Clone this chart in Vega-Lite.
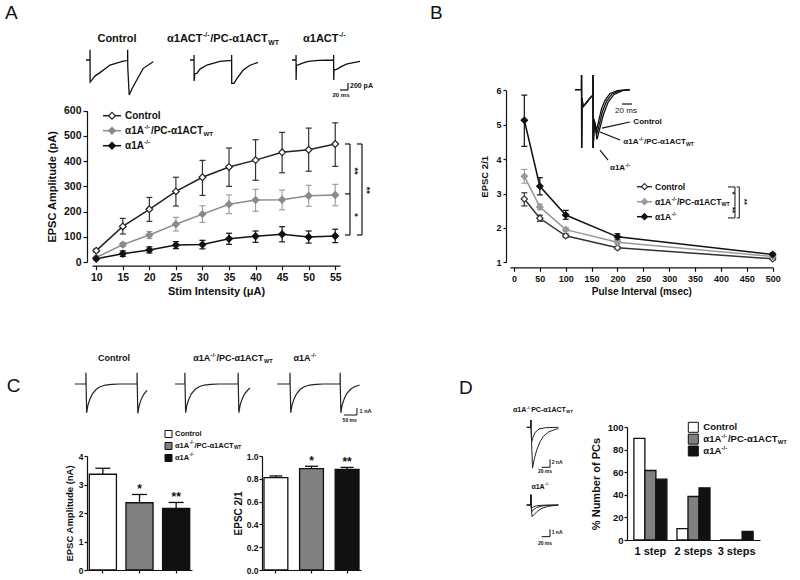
{
"$schema":"https://vega.github.io/schema/vega-lite/v6.json",
"width":800,"height":580,"autosize":{"type":"none"},"padding":0,"background":"white",
"config":{"font":"Liberation Sans","view":{"stroke":null},"legend":{"disable":true},
 "axis":{"grid":false,"domainColor":"#111","tickColor":"#111","labelColor":"#111","titleColor":"#111","labelFontWeight":"bold","titleFontWeight":"bold","domainWidth":1.2,"tickWidth":1.2,"labelFlush":false,"labelOverlap":false},
 "text":{"color":"#111","fontWeight":"bold"}},
"datasets":{
"A":[
{"g":"Control","stim":10,"m":45,"lo":40,"hi":51},{"g":"Control","stim":15,"m":141,"lo":111,"hi":173},{"g":"Control","stim":20,"m":209,"lo":161,"hi":256},{"g":"Control","stim":25,"m":280,"lo":222,"hi":336},{"g":"Control","stim":30,"m":336,"lo":264,"hi":403},{"g":"Control","stim":35,"m":377,"lo":300,"hi":452},{"g":"Control","stim":40,"m":404,"lo":324,"hi":485},{"g":"Control","stim":45,"m":435,"lo":354,"hi":514},{"g":"Control","stim":50,"m":445,"lo":360,"hi":531},{"g":"Control","stim":55,"m":468,"lo":379,"hi":552},
{"g":"PC","stim":10,"m":18,"lo":14,"hi":22},{"g":"PC","stim":15,"m":69,"lo":61,"hi":77},{"g":"PC","stim":20,"m":107,"lo":93,"hi":121},{"g":"PC","stim":25,"m":150,"lo":123,"hi":177},{"g":"PC","stim":30,"m":190,"lo":157,"hi":223},{"g":"PC","stim":35,"m":229,"lo":192,"hi":266},{"g":"PC","stim":40,"m":246,"lo":201,"hi":288},{"g":"PC","stim":45,"m":247,"lo":207,"hi":285},{"g":"PC","stim":50,"m":263,"lo":221,"hi":304},{"g":"PC","stim":55,"m":266,"lo":223,"hi":308},
{"g":"KO","stim":10,"m":13,"lo":9,"hi":17},{"g":"KO","stim":15,"m":33,"lo":22,"hi":44},{"g":"KO","stim":20,"m":48,"lo":36,"hi":60},{"g":"KO","stim":25,"m":67,"lo":53,"hi":81},{"g":"KO","stim":30,"m":69,"lo":52,"hi":86},{"g":"KO","stim":35,"m":92,"lo":70,"hi":114},{"g":"KO","stim":40,"m":102,"lo":78,"hi":123},{"g":"KO","stim":45,"m":110,"lo":80,"hi":140},{"g":"KO","stim":50,"m":99,"lo":75,"hi":123},{"g":"KO","stim":55,"m":103,"lo":77,"hi":130}],
"B":[
{"g":"Control","iv":20,"m":2.84,"lo":2.64,"hi":3.02},{"g":"Control","iv":50,"m":2.28,"lo":2.19,"hi":2.37},{"g":"Control","iv":100,"m":1.77,"lo":1.72,"hi":1.82},{"g":"Control","iv":200,"m":1.42,"lo":1.38,"hi":1.46},{"g":"Control","iv":500,"m":1.1,"lo":1.07,"hi":1.13},
{"g":"PC","iv":20,"m":3.5,"lo":3.3,"hi":3.7},{"g":"PC","iv":50,"m":2.61,"lo":2.53,"hi":2.69},{"g":"PC","iv":100,"m":1.95,"lo":1.89,"hi":2.01},{"g":"PC","iv":200,"m":1.58,"lo":1.53,"hi":1.63},{"g":"PC","iv":500,"m":1.17,"lo":1.14,"hi":1.2},
{"g":"KO","iv":20,"m":5.13,"lo":4.37,"hi":5.86},{"g":"KO","iv":50,"m":3.21,"lo":2.96,"hi":3.46},{"g":"KO","iv":100,"m":2.375,"lo":2.25,"hi":2.51},{"g":"KO","iv":200,"m":1.74,"lo":1.65,"hi":1.83},{"g":"KO","iv":500,"m":1.23,"lo":1.19,"hi":1.27}],
"C1":[{"g":"Control","m":3.36,"hi":3.57,"sig":""},{"g":"PC","m":2.36,"hi":2.65,"sig":"*"},{"g":"KO","m":2.16,"hi":2.37,"sig":"**"}],
"C2":[{"g":"Control","m":0.81,"hi":0.825,"sig":""},{"g":"PC","m":0.889,"hi":0.91,"sig":"*"},{"g":"KO","m":0.883,"hi":0.9,"sig":"**"}],
"D":[{"step":"1 step","g":"Control","pct":90},{"step":"1 step","g":"PC","pct":61.5},{"step":"1 step","g":"KO","pct":53.8},{"step":"2 steps","g":"Control","pct":10},{"step":"2 steps","g":"PC","pct":38.5},{"step":"2 steps","g":"KO","pct":46.2},{"step":"3 steps","g":"Control","pct":0},{"step":"3 steps","g":"PC","pct":0},{"step":"3 steps","g":"KO","pct":7.7}],
"leg":[{"g":"Control","b1":"Control","sup":"","b2":"","sub":""},{"g":"PC","b1":"α1A","sup":"-/-","b2":"/PC-α1ACT","sub":"WT"},{"g":"KO","b1":"α1A","sup":"-/-","b2":"","sub":""}],
"atr":[
{"tr":"A1","t":0,"a":0},{"tr":"A1","t":10,"a":0},{"tr":"A1","t":10.1,"a":290},{"tr":"A1","t":10.3,"a":-630},{"tr":"A1","t":14,"a":-580},{"tr":"A1","t":22,"a":-460},{"tr":"A1","t":35,"a":-360},{"tr":"A1","t":60,"a":-143},{"tr":"A1","t":93,"a":-29},{"tr":"A1","t":104,"a":-15},{"tr":"A1","t":104.1,"a":290},{"tr":"A1","t":104.4,"a":-200},{"tr":"A1","t":108,"a":-1000},{"tr":"A1","t":115,"a":-820},{"tr":"A1","t":127,"a":-571},{"tr":"A1","t":143,"a":-238},{"tr":"A1","t":168,"a":-48},
{"tr":"A2","t":0,"a":0},{"tr":"A2","t":10,"a":0},{"tr":"A2","t":10.1,"a":140},{"tr":"A2","t":10.3,"a":-600},{"tr":"A2","t":12,"a":-390},{"tr":"A2","t":17,"a":-380},{"tr":"A2","t":25,"a":-260},{"tr":"A2","t":42,"a":-143},{"tr":"A2","t":75,"a":-38},{"tr":"A2","t":104,"a":-10},{"tr":"A2","t":104.1,"a":140},{"tr":"A2","t":104.3,"a":-670},{"tr":"A2","t":110,"a":-670},{"tr":"A2","t":118,"a":-520},{"tr":"A2","t":133,"a":-286},{"tr":"A2","t":150,"a":-150},{"tr":"A2","t":170,"a":-70},
{"tr":"A3","t":0,"a":0},{"tr":"A3","t":10,"a":0},{"tr":"A3","t":10.1,"a":140},{"tr":"A3","t":10.3,"a":-570},{"tr":"A3","t":11,"a":-150},{"tr":"A3","t":16,"a":-140},{"tr":"A3","t":26,"a":-90},{"tr":"A3","t":41,"a":-40},{"tr":"A3","t":66,"a":-10},{"tr":"A3","t":104,"a":0},{"tr":"A3","t":104.1,"a":140},{"tr":"A3","t":104.3,"a":-570},{"tr":"A3","t":105,"a":-290},{"tr":"A3","t":113,"a":-260},{"tr":"A3","t":123,"a":-190},{"tr":"A3","t":138,"a":-110},{"tr":"A3","t":170,"a":-40}],
"btr":[
{"tr":"Bc","t":0,"a":0},{"tr":"Bc","t":13,"a":0},{"tr":"Bc","t":13.1,"a":150},{"tr":"Bc","t":13.3,"a":-600},{"tr":"Bc","t":14,"a":-90},{"tr":"Bc","t":16,"a":-175},{"tr":"Bc","t":22,"a":-140},{"tr":"Bc","t":28,"a":-100},{"tr":"Bc","t":33,"a":-70},{"tr":"Bc","t":35.9,"a":-60},{"tr":"Bc","t":36,"a":150},{"tr":"Bc","t":36.2,"a":-600},{"tr":"Bc","t":38,"a":-300},{"tr":"Bc","t":43,"a":-415},{"tr":"Bc","t":47,"a":-330},{"tr":"Bc","t":53,"a":-200},{"tr":"Bc","t":60,"a":-110},{"tr":"Bc","t":70,"a":-40},{"tr":"Bc","t":85,"a":-10},{"tr":"Bc","t":110,"a":0},
{"tr":"Bp","t":0,"a":0},{"tr":"Bp","t":13,"a":0},{"tr":"Bp","t":13.1,"a":150},{"tr":"Bp","t":13.3,"a":-600},{"tr":"Bp","t":14,"a":-90},{"tr":"Bp","t":16,"a":-175},{"tr":"Bp","t":22,"a":-140},{"tr":"Bp","t":28,"a":-100},{"tr":"Bp","t":33,"a":-70},{"tr":"Bp","t":35.9,"a":-60},{"tr":"Bp","t":36,"a":150},{"tr":"Bp","t":36.2,"a":-600},{"tr":"Bp","t":38.5,"a":-320},{"tr":"Bp","t":43.5,"a":-456},{"tr":"Bp","t":48,"a":-370},{"tr":"Bp","t":55,"a":-225},{"tr":"Bp","t":63,"a":-120},{"tr":"Bp","t":74,"a":-45},{"tr":"Bp","t":90,"a":-10},{"tr":"Bp","t":110,"a":0},
{"tr":"Bk","t":0,"a":0},{"tr":"Bk","t":13,"a":0},{"tr":"Bk","t":13.1,"a":150},{"tr":"Bk","t":13.3,"a":-600},{"tr":"Bk","t":14,"a":-90},{"tr":"Bk","t":16,"a":-175},{"tr":"Bk","t":22,"a":-140},{"tr":"Bk","t":28,"a":-100},{"tr":"Bk","t":33,"a":-70},{"tr":"Bk","t":35.9,"a":-60},{"tr":"Bk","t":36,"a":150},{"tr":"Bk","t":36.2,"a":-600},{"tr":"Bk","t":39,"a":-340},{"tr":"Bk","t":44,"a":-511},{"tr":"Bk","t":49,"a":-410},{"tr":"Bk","t":57,"a":-255},{"tr":"Bk","t":66,"a":-130},{"tr":"Bk","t":78,"a":-50},{"tr":"Bk","t":95,"a":-10},{"tr":"Bk","t":110,"a":0}],
"ctr":[
{"tr":"C1","t":0,"a":0},{"tr":"C1","t":42,"a":0},{"tr":"C1","t":42.1,"a":1.6},{"tr":"C1","t":42.6,"a":0},{"tr":"C1","t":45,"a":-4.1},{"tr":"C1","t":50,"a":-3},{"tr":"C1","t":57,"a":-2.2},{"tr":"C1","t":67,"a":-1.4},{"tr":"C1","t":82,"a":-0.75},{"tr":"C1","t":97,"a":-0.4},{"tr":"C1","t":117,"a":-0.15},{"tr":"C1","t":142,"a":-0.05},{"tr":"C1","t":172,"a":0},{"tr":"C1","t":239,"a":0},{"tr":"C1","t":239.1,"a":1.6},{"tr":"C1","t":239.6,"a":0},{"tr":"C1","t":242,"a":-4.2},{"tr":"C1","t":247,"a":-3.1},{"tr":"C1","t":254,"a":-2.3},{"tr":"C1","t":264,"a":-1.5},{"tr":"C1","t":277,"a":-0.9},
{"tr":"C2","t":0,"a":0},{"tr":"C2","t":38,"a":0},{"tr":"C2","t":38.1,"a":1.6},{"tr":"C2","t":38.6,"a":0},{"tr":"C2","t":41,"a":-4.1},{"tr":"C2","t":46,"a":-3},{"tr":"C2","t":53,"a":-2.2},{"tr":"C2","t":63,"a":-1.4},{"tr":"C2","t":78,"a":-0.75},{"tr":"C2","t":93,"a":-0.4},{"tr":"C2","t":113,"a":-0.15},{"tr":"C2","t":138,"a":-0.05},{"tr":"C2","t":168,"a":0},{"tr":"C2","t":243,"a":0},{"tr":"C2","t":243.1,"a":1.6},{"tr":"C2","t":243.6,"a":0},{"tr":"C2","t":246,"a":-4.1},{"tr":"C2","t":251,"a":-3},{"tr":"C2","t":258,"a":-2.2},{"tr":"C2","t":268,"a":-1.4},{"tr":"C2","t":283,"a":-0.75},{"tr":"C2","t":289,"a":-0.6},
{"tr":"C3","t":0,"a":0},{"tr":"C3","t":50,"a":0},{"tr":"C3","t":50.1,"a":1.6},{"tr":"C3","t":50.6,"a":0},{"tr":"C3","t":53,"a":-4.1},{"tr":"C3","t":58,"a":-3},{"tr":"C3","t":65,"a":-2.2},{"tr":"C3","t":75,"a":-1.4},{"tr":"C3","t":90,"a":-0.75},{"tr":"C3","t":105,"a":-0.4},{"tr":"C3","t":125,"a":-0.15},{"tr":"C3","t":150,"a":-0.05},{"tr":"C3","t":180,"a":0},{"tr":"C3","t":243,"a":0},{"tr":"C3","t":243.1,"a":1.6},{"tr":"C3","t":243.6,"a":0},{"tr":"C3","t":246,"a":-4.1},{"tr":"C3","t":251,"a":-3},{"tr":"C3","t":258,"a":-2.2},{"tr":"C3","t":268,"a":-1.4},{"tr":"C3","t":283,"a":-0.75},{"tr":"C3","t":298,"a":-0.4},{"tr":"C3","t":318,"a":-0.15}],
"dtr":[
{"tr":"D1b","t":0,"a":0},{"tr":"D1b","t":10,"a":0},{"tr":"D1b","t":10.1,"a":1.8},{"tr":"D1b","t":10.4,"a":0},{"tr":"D1b","t":14,"a":-10.2},{"tr":"D1b","t":18,"a":-8},{"tr":"D1b","t":24,"a":-5.7},{"tr":"D1b","t":32,"a":-3.6},{"tr":"D1b","t":40,"a":-2.3},{"tr":"D1b","t":52,"a":-1.2},{"tr":"D1b","t":64,"a":-0.7},{"tr":"D1b","t":76,"a":-0.3},
{"tr":"D1a","t":0,"a":0},{"tr":"D1a","t":10,"a":0},{"tr":"D1a","t":10.1,"a":1.8},{"tr":"D1a","t":10.4,"a":0},{"tr":"D1a","t":12,"a":-3.6},{"tr":"D1a","t":16,"a":-2.2},{"tr":"D1a","t":20,"a":-1.3},{"tr":"D1a","t":30,"a":-0.4},{"tr":"D1a","t":45,"a":-0.1},{"tr":"D1a","t":76,"a":0},
{"tr":"D2c","t":0,"a":0},{"tr":"D2c","t":10,"a":0},{"tr":"D2c","t":10.1,"a":1.4},{"tr":"D2c","t":10.4,"a":0},{"tr":"D2c","t":13,"a":-1.6},{"tr":"D2c","t":18,"a":-1.3},{"tr":"D2c","t":25,"a":-0.9},{"tr":"D2c","t":35,"a":-0.5},{"tr":"D2c","t":50,"a":-0.2},{"tr":"D2c","t":65,"a":-0.08},{"tr":"D2c","t":76,"a":0},
{"tr":"D2b","t":0,"a":0},{"tr":"D2b","t":10,"a":0},{"tr":"D2b","t":10.1,"a":1.4},{"tr":"D2b","t":10.4,"a":0},{"tr":"D2b","t":12.5,"a":-0.9},{"tr":"D2b","t":17,"a":-0.6},{"tr":"D2b","t":24,"a":-0.35},{"tr":"D2b","t":35,"a":-0.15},{"tr":"D2b","t":50,"a":-0.05},{"tr":"D2b","t":76,"a":0},
{"tr":"D2a","t":0,"a":0},{"tr":"D2a","t":10,"a":0},{"tr":"D2a","t":10.1,"a":1.4},{"tr":"D2a","t":10.4,"a":0},{"tr":"D2a","t":12,"a":-0.45},{"tr":"D2a","t":16,"a":-0.25},{"tr":"D2a","t":24,"a":-0.1},{"tr":"D2a","t":40,"a":-0.02},{"tr":"D2a","t":76,"a":0}]
},
"layer":[
{"data":{"name":"atr"},"layer":[
 {"transform":[{"filter":"datum.tr==='A1'"}],"mark":{"type":"line","stroke":"#111","strokeWidth":1.3},"encoding":{"x":{"field":"t","type":"quantitative","scale":{"domain":[0,170],"range":[86,154],"nice":false,"zero":false},"axis":null},"y":{"field":"a","type":"quantitative","scale":{"domain":[-1000,500],"range":[95,42.5],"nice":false,"zero":false},"axis":null}}},
 {"data":{"values":[{}]},"mark":{"type":"text","fontSize":11,"align":"center","baseline":"middle"},"encoding":{"x":{"datum":77.5,"axis":null},"y":{"datum":591,"axis":null},"text":{"value":"Control"}}},
 {"data":{"values":[{}]},"mark":{"type":"text","fontSize":19,"fontWeight":"normal","align":"left","baseline":"middle"},"encoding":{"x":{"datum":-202.5,"axis":null},"y":{"datum":1357,"axis":null},"text":{"value":"A"}}}
]},
{"data":{"name":"atr"},"layer":[
 {"transform":[{"filter":"datum.tr==='A2'"}],"mark":{"type":"line","stroke":"#111","strokeWidth":1.3},"encoding":{"x":{"field":"t","type":"quantitative","scale":{"domain":[0,170],"range":[190,258],"nice":false,"zero":false},"axis":null},"y":{"field":"a","type":"quantitative","scale":{"domain":[-1000,500],"range":[95,42.5],"nice":false,"zero":false},"axis":null}}},
 {"data":{"values":[{}]},"mark":{"type":"text","fontSize":11,"align":"left","baseline":"middle","dx":0},"encoding":{"x":{"datum":-57.5,"axis":null},"y":{"datum":591,"axis":null},"text":{"value":"α1ACT"}}},
 {"data":{"values":[{}]},"mark":{"type":"text","fontSize":6.8,"align":"left","baseline":"middle","dx":36.1,"dy":-4},"encoding":{"x":{"datum":-57.5,"axis":null},"y":{"datum":591,"axis":null},"text":{"value":"-/-"}}},
 {"data":{"values":[{}]},"mark":{"type":"text","fontSize":11,"align":"left","baseline":"middle","dx":43.3},"encoding":{"x":{"datum":-57.5,"axis":null},"y":{"datum":591,"axis":null},"text":{"value":"/PC-α1ACT"}}},
 {"data":{"values":[{}]},"mark":{"type":"text","fontSize":6.8,"align":"left","baseline":"middle","dx":101.3,"dy":3.3},"encoding":{"x":{"datum":-57.5,"axis":null},"y":{"datum":591,"axis":null},"text":{"value":"WT"}}}
]},
{"data":{"name":"atr"},"layer":[
 {"transform":[{"filter":"datum.tr==='A3'"}],"mark":{"type":"line","stroke":"#111","strokeWidth":1.3},"encoding":{"x":{"field":"t","type":"quantitative","scale":{"domain":[0,170],"range":[292,360],"nice":false,"zero":false},"axis":null},"y":{"field":"a","type":"quantitative","scale":{"domain":[-1000,500],"range":[95,42.5],"nice":false,"zero":false},"axis":null}}},
 {"data":{"values":[{}]},"mark":{"type":"text","fontSize":11,"align":"left","baseline":"middle"},"encoding":{"x":{"datum":27.5,"axis":null},"y":{"datum":591,"axis":null},"text":{"value":"α1ACT"}}},
 {"data":{"values":[{}]},"mark":{"type":"text","fontSize":6.8,"align":"left","baseline":"middle","dx":36.1,"dy":-4},"encoding":{"x":{"datum":27.5,"axis":null},"y":{"datum":591,"axis":null},"text":{"value":"-/-"}}},
 {"data":{"values":[{"x1":140,"x2":140,"y1":-657,"y2":-857},{"x1":120,"x2":140,"y1":-857,"y2":-857}]},"mark":{"type":"rule","color":"#111","strokeWidth":1.2},"encoding":{"x":{"field":"x1","type":"quantitative","axis":null},"x2":{"field":"x2"},"y":{"field":"y1","type":"quantitative","axis":null},"y2":{"field":"y2"}}},
 {"data":{"values":[{}]},"mark":{"type":"text","fontSize":7,"align":"left","baseline":"middle"},"encoding":{"x":{"datum":145,"axis":null},"y":{"datum":-743,"axis":null},"text":{"value":"200 pA"}}},
 {"data":{"values":[{}]},"mark":{"type":"text","fontSize":6,"align":"center","baseline":"middle"},"encoding":{"x":{"datum":122.5,"axis":null},"y":{"datum":-990,"axis":null},"text":{"value":"20 ms"}}}
]},
{"data":{"name":"A"},"mark":{"type":"rule","strokeWidth":1.2},"encoding":{
   "x":{"field":"stim","type":"quantitative","scale":{"domain":[9.2,55.9],"range":[92,340],"nice":false,"zero":false},"axis":{"orient":"bottom","offset":-314.3,"values":[10,15,20,25,30,35,40,45,50,55],"title":"Stim Intensity (μA)","titleFontSize":11,"labelFontSize":10.5,"tickSize":4,"labelPadding":3,"titlePadding":2}},
   "y":{"field":"lo","type":"quantitative","scale":{"domain":[0,600],"range":[262,110.7],"nice":false,"zero":false},"axis":{"orient":"left","offset":-87,"values":[0,100,200,300,400,500,600],"title":"EPSC Amplitude (pA)","titleFontSize":11,"labelFontSize":10.5,"tickSize":4,"labelPadding":2,"titlePadding":6}},
   "y2":{"field":"hi"},
   "color":{"field":"g","type":"nominal","scale":{"domain":["Control","PC","KO"],"range":["#333","#a0a0a0","#111"]}}}},
{"data":{"name":"A"},"layer":[
 {"mark":{"type":"tick","orient":"horizontal","size":6,"thickness":1.2,"opacity":1},"encoding":{"x":{"field":"stim","type":"quantitative","scale":{"domain":[9.2,55.9],"range":[92,340],"nice":false,"zero":false},"axis":null},"y":{"field":"lo","type":"quantitative","scale":{"domain":[0,600],"range":[262,110.7],"nice":false,"zero":false},"axis":null},"color":{"field":"g","type":"nominal","scale":{"domain":["Control","PC","KO"],"range":["#333","#a0a0a0","#111"]}}}},
 {"mark":{"type":"tick","orient":"horizontal","size":6,"thickness":1.2,"opacity":1},"encoding":{"x":{"field":"stim","type":"quantitative","axis":null},"y":{"field":"hi","type":"quantitative","axis":null},"color":{"field":"g","type":"nominal"}}},
 {"mark":{"type":"line","strokeWidth":1.5},"encoding":{"x":{"field":"stim","type":"quantitative","axis":null},"y":{"field":"m","type":"quantitative","axis":null},"stroke":{"field":"g","type":"nominal","scale":{"domain":["Control","PC","KO"],"range":["#222","#8a8a8a","#111"]}}}},
 {"mark":{"type":"point","shape":"diamond","filled":true,"size":45,"strokeWidth":1.2,"opacity":1},"encoding":{"x":{"field":"stim","type":"quantitative","axis":null},"y":{"field":"m","type":"quantitative","axis":null},"fill":{"field":"g","type":"nominal","scale":{"domain":["Control","PC","KO"],"range":["#fff","#8a8a8a","#111"]}},"stroke":{"field":"g","type":"nominal"}}},
 {"data":{"values":[{"x1":56.84,"x2":57.78,"y1":468,"y2":468},{"x1":57.78,"x2":57.78,"y1":107,"y2":468},{"x1":56.84,"x2":57.78,"y1":270,"y2":270},{"x1":56.84,"x2":57.78,"y1":107,"y2":107},{"x1":59.1,"x2":60.04,"y1":468,"y2":468},{"x1":60.04,"x2":60.04,"y1":107,"y2":468},{"x1":59.1,"x2":60.04,"y1":107,"y2":107}]},"mark":{"type":"rule","color":"#111","strokeWidth":1.2},"encoding":{"x":{"field":"x1","type":"quantitative","axis":null},"x2":{"field":"x2"},"y":{"field":"y1","type":"quantitative","axis":null},"y2":{"field":"y2"}}},
 {"data":{"values":[{"x":58.7,"y":361,"s":"**"},{"x":58.7,"y":186,"s":"*"},{"x":60.9,"y":285,"s":"**"}]},"mark":{"type":"text","fontSize":9,"angle":90,"align":"center","baseline":"middle"},"encoding":{"x":{"field":"x","type":"quantitative","axis":null},"y":{"field":"y","type":"quantitative","axis":null},"text":{"field":"s"}}}
]},
{"data":{"name":"leg"},"layer":[
 {"mark":{"type":"rule","strokeWidth":1.5},"encoding":{"x":{"datum":0,"type":"quantitative","scale":{"domain":[0,1],"range":[103,121],"nice":false,"zero":false},"axis":null},"x2":{"datum":1},"y":{"field":"g","type":"nominal","scale":{"type":"point","domain":["Control","PC","KO"],"range":[115.7,145.7],"padding":0},"axis":null},"stroke":{"field":"g","type":"nominal","scale":{"domain":["Control","PC","KO"],"range":["#222","#8a8a8a","#111"]}}}},
 {"mark":{"type":"point","shape":"diamond","filled":true,"size":45,"strokeWidth":1.2,"opacity":1},"encoding":{"x":{"datum":0.5,"type":"quantitative","axis":null},"y":{"field":"g","type":"nominal","axis":null},"fill":{"field":"g","type":"nominal","scale":{"domain":["Control","PC","KO"],"range":["#fff","#8a8a8a","#111"]}},"stroke":{"field":"g","type":"nominal"}}},
 {"mark":{"type":"text","align":"left","baseline":"middle","fontSize":10,"dx":4},"encoding":{"x":{"datum":1,"type":"quantitative","axis":null},"y":{"field":"g","type":"nominal","axis":null},"text":{"field":"b1"}}},
 {"mark":{"type":"text","align":"left","baseline":"middle","fontSize":6.2,"dx":23.3,"dy":-3.6},"encoding":{"x":{"datum":1,"type":"quantitative","axis":null},"y":{"field":"g","type":"nominal","axis":null},"text":{"field":"sup"}}},
 {"mark":{"type":"text","align":"left","baseline":"middle","fontSize":10,"dx":29.9},"encoding":{"x":{"datum":1,"type":"quantitative","axis":null},"y":{"field":"g","type":"nominal","axis":null},"text":{"field":"b2"}}},
 {"mark":{"type":"text","align":"left","baseline":"middle","fontSize":6.2,"dx":82.4,"dy":3},"encoding":{"x":{"datum":1,"type":"quantitative","axis":null},"y":{"field":"g","type":"nominal","axis":null},"text":{"field":"sub"}}}
]},
{"data":{"name":"B"},"mark":{"type":"rule","strokeWidth":1.2},"encoding":{
   "x":{"field":"iv","type":"quantitative","scale":{"domain":[-7.7,500],"range":[510,772.7],"nice":false,"zero":false},"axis":{"orient":"bottom","offset":-312.7,"values":[0,50,100,150,200,250,300,350,400,450,500],"title":"Pulse Interval (msec)","titleFontSize":10,"labelFontSize":9,"tickSize":4,"labelPadding":3,"titlePadding":3}},
   "y":{"field":"lo","type":"quantitative","scale":{"domain":[1,6],"range":[262.3,90.3],"nice":false,"zero":false},"axis":{"orient":"left","offset":-506,"values":[1,2,3,4,5,6],"title":"EPSC 2/1","titleFontSize":9.5,"labelFontSize":9,"tickSize":3,"labelPadding":2,"titlePadding":6}},
   "y2":{"field":"hi"},
   "color":{"field":"g","type":"nominal","scale":{"domain":["Control","PC","KO"],"range":["#333","#a0a0a0","#111"]}}}},
{"data":{"name":"B"},"layer":[
 {"mark":{"type":"tick","orient":"horizontal","size":6,"thickness":1.2,"opacity":1},"encoding":{"x":{"field":"iv","type":"quantitative","scale":{"domain":[-7.7,500],"range":[510,772.7],"nice":false,"zero":false},"axis":null},"y":{"field":"lo","type":"quantitative","scale":{"domain":[1,6],"range":[262.3,90.3],"nice":false,"zero":false},"axis":null},"color":{"field":"g","type":"nominal","scale":{"domain":["Control","PC","KO"],"range":["#333","#a0a0a0","#111"]}}}},
 {"mark":{"type":"tick","orient":"horizontal","size":6,"thickness":1.2,"opacity":1},"encoding":{"x":{"field":"iv","type":"quantitative","axis":null},"y":{"field":"hi","type":"quantitative","axis":null},"color":{"field":"g","type":"nominal"}}},
 {"mark":{"type":"line","strokeWidth":1.5},"encoding":{"x":{"field":"iv","type":"quantitative","axis":null},"y":{"field":"m","type":"quantitative","axis":null},"stroke":{"field":"g","type":"nominal","scale":{"domain":["Control","PC","KO"],"range":["#333","#999","#111"]}}}},
 {"mark":{"type":"point","shape":"diamond","filled":true,"size":40,"strokeWidth":1.2,"opacity":1},"encoding":{"x":{"field":"iv","type":"quantitative","axis":null},"y":{"field":"m","type":"quantitative","axis":null},"fill":{"field":"g","type":"nominal","scale":{"domain":["Control","PC","KO"],"range":["#fff","#999","#111"]}},"stroke":{"field":"g","type":"nominal"}}},
 {"data":{"values":[{"x1":413.6,"x2":427.1,"y1":3.19,"y2":3.19},{"x1":427.1,"x2":427.1,"y1":2.29,"y2":3.19},{"x1":413.6,"x2":427.1,"y1":2.29,"y2":2.29},{"x1":430.4,"x2":435.4,"y1":3.19,"y2":3.19},{"x1":435.4,"x2":435.4,"y1":2.29,"y2":3.19},{"x1":430.4,"x2":435.4,"y1":2.29,"y2":2.29}]},"mark":{"type":"rule","color":"#111","strokeWidth":1},"encoding":{"x":{"field":"x1","type":"quantitative","axis":null},"x2":{"field":"x2"},"y":{"field":"y1","type":"quantitative","axis":null},"y2":{"field":"y2"}}},
 {"data":{"values":[{"x":421.3,"y":3.01,"s":"*"},{"x":421.3,"y":2.52,"s":"**"},{"x":444.5,"y":2.76,"s":"**"}]},"mark":{"type":"text","fontSize":8,"angle":90,"align":"center","baseline":"middle"},"encoding":{"x":{"field":"x","type":"quantitative","axis":null},"y":{"field":"y","type":"quantitative","axis":null},"text":{"field":"s"}}}
]},
{"data":{"name":"leg"},"layer":[
 {"mark":{"type":"rule","strokeWidth":1.5},"encoding":{"x":{"datum":0,"type":"quantitative","scale":{"domain":[0,1],"range":[637,652],"nice":false,"zero":false},"axis":null},"x2":{"datum":1},"y":{"field":"g","type":"nominal","scale":{"type":"point","domain":["Control","PC","KO"],"range":[186.7,216.7],"padding":0},"axis":null},"stroke":{"field":"g","type":"nominal","scale":{"domain":["Control","PC","KO"],"range":["#333","#999","#111"]}}}},
 {"mark":{"type":"point","shape":"diamond","filled":true,"size":36,"strokeWidth":1.2,"opacity":1},"encoding":{"x":{"datum":0.5,"type":"quantitative","axis":null},"y":{"field":"g","type":"nominal","axis":null},"fill":{"field":"g","type":"nominal","scale":{"domain":["Control","PC","KO"],"range":["#fff","#999","#111"]}},"stroke":{"field":"g","type":"nominal"}}},
 {"mark":{"type":"text","align":"left","baseline":"middle","fontSize":8.5,"dx":3},"encoding":{"x":{"datum":1,"type":"quantitative","axis":null},"y":{"field":"g","type":"nominal","axis":null},"text":{"field":"b1"}}},
 {"mark":{"type":"text","align":"left","baseline":"middle","fontSize":5.3,"dx":19.4,"dy":-3.1},"encoding":{"x":{"datum":1,"type":"quantitative","axis":null},"y":{"field":"g","type":"nominal","axis":null},"text":{"field":"sup"}}},
 {"mark":{"type":"text","align":"left","baseline":"middle","fontSize":8.5,"dx":25},"encoding":{"x":{"datum":1,"type":"quantitative","axis":null},"y":{"field":"g","type":"nominal","axis":null},"text":{"field":"b2"}}},
 {"mark":{"type":"text","align":"left","baseline":"middle","fontSize":5.3,"dx":69.6,"dy":2.6},"encoding":{"x":{"datum":1,"type":"quantitative","axis":null},"y":{"field":"g","type":"nominal","axis":null},"text":{"field":"sub"}}}
]},
{"data":{"name":"btr"},"layer":[
 {"mark":{"type":"line","stroke":"#111","strokeWidth":1.3},"encoding":{"x":{"field":"t","type":"quantitative","scale":{"domain":[0,110],"range":[575,630],"nice":false,"zero":false},"axis":null},"y":{"field":"a","type":"quantitative","scale":{"domain":[-600,150],"range":[148,75],"nice":false,"zero":false},"axis":null},"detail":{"field":"tr"}}},
 {"data":{"values":[{"x1":94,"x2":114,"y1":-148,"y2":-148},{"x1":54,"x2":110,"y1":-395,"y2":-333},{"x1":50,"x2":90,"y1":-436,"y2":-518},{"x1":50,"x2":66,"y1":-621,"y2":-724}]},"mark":{"type":"rule","color":"#111","strokeWidth":1.2},"encoding":{"x":{"field":"x1","type":"quantitative","axis":null},"x2":{"field":"x2"},"y":{"field":"y1","type":"quantitative","axis":null},"y2":{"field":"y2"}}},
 {"data":{"values":[{}]},"mark":{"type":"text","fontSize":8,"fontWeight":"normal","align":"center","baseline":"middle"},"encoding":{"x":{"datum":102,"axis":null},"y":{"datum":-215,"axis":null},"text":{"value":"20 ms"}}},
 {"data":{"values":[{}]},"mark":{"type":"text","fontSize":8,"align":"left","baseline":"middle"},"encoding":{"x":{"datum":116.7,"axis":null},"y":{"datum":-336,"axis":null},"text":{"value":"Control"}}},
 {"data":{"values":[{}]},"mark":{"type":"text","fontSize":8,"align":"left","baseline":"middle"},"encoding":{"x":{"datum":96.7,"axis":null},"y":{"datum":-535,"axis":null},"text":{"value":"α1A"}}},
 {"data":{"values":[{}]},"mark":{"type":"text","fontSize":5,"align":"left","baseline":"middle","dx":15.4,"dy":-2.9},"encoding":{"x":{"datum":96.7,"axis":null},"y":{"datum":-535,"axis":null},"text":{"value":"-/-"}}},
 {"data":{"values":[{}]},"mark":{"type":"text","fontSize":8,"align":"left","baseline":"middle","dx":20.7},"encoding":{"x":{"datum":96.7,"axis":null},"y":{"datum":-535,"axis":null},"text":{"value":"/PC-α1ACT"}}},
 {"data":{"values":[{}]},"mark":{"type":"text","fontSize":5,"align":"left","baseline":"middle","dx":62.7,"dy":2.4},"encoding":{"x":{"datum":96.7,"axis":null},"y":{"datum":-535,"axis":null},"text":{"value":"WT"}}},
 {"data":{"values":[{}]},"mark":{"type":"text","fontSize":8,"align":"left","baseline":"middle"},"encoding":{"x":{"datum":70,"axis":null},"y":{"datum":-809,"axis":null},"text":{"value":"α1A"}}},
 {"data":{"values":[{}]},"mark":{"type":"text","fontSize":5,"align":"left","baseline":"middle","dx":15.4,"dy":-2.9},"encoding":{"x":{"datum":70,"axis":null},"y":{"datum":-809,"axis":null},"text":{"value":"-/-"}}},
 {"data":{"values":[{}]},"mark":{"type":"text","fontSize":19,"fontWeight":"normal","align":"left","baseline":"middle"},"encoding":{"x":{"datum":-290,"axis":null},"y":{"datum":787,"axis":null},"text":{"value":"B"}}}
]},
{"data":{"name":"ctr"},"layer":[
 {"transform":[{"filter":"datum.tr==='C1'"}],"mark":{"type":"line","stroke":"#222","strokeWidth":1.2},"encoding":{"x":{"field":"t","type":"quantitative","scale":{"domain":[0,290],"range":[75,150.3],"nice":false,"zero":false},"axis":null},"y":{"field":"a","type":"quantitative","scale":{"domain":[-5,2],"range":[419,370],"nice":false,"zero":false},"axis":null}}},
 {"data":{"values":[{}]},"mark":{"type":"text","fontSize":9,"align":"center","baseline":"middle"},"encoding":{"x":{"datum":150,"axis":null},"y":{"datum":3.71,"axis":null},"text":{"value":"Control"}}},
 {"data":{"values":[{}]},"mark":{"type":"text","fontSize":19,"fontWeight":"normal","align":"left","baseline":"middle"},"encoding":{"x":{"datum":-263,"axis":null},"y":{"datum":-0.29,"axis":null},"text":{"value":"C"}}}
]},
{"data":{"name":"ctr"},"layer":[
 {"transform":[{"filter":"datum.tr==='C2'"}],"mark":{"type":"line","stroke":"#222","strokeWidth":1.2},"encoding":{"x":{"field":"t","type":"quantitative","scale":{"domain":[0,290],"range":[175,250.3],"nice":false,"zero":false},"axis":null},"y":{"field":"a","type":"quantitative","scale":{"domain":[-5,2],"range":[419,370],"nice":false,"zero":false},"axis":null}}},
 {"data":{"values":[{}]},"mark":{"type":"text","fontSize":9,"align":"left","baseline":"middle"},"encoding":{"x":{"datum":70,"axis":null},"y":{"datum":3.71,"axis":null},"text":{"value":"α1A"}}},
 {"data":{"values":[{}]},"mark":{"type":"text","fontSize":5.6,"align":"left","baseline":"middle","dx":17.4,"dy":-3.3},"encoding":{"x":{"datum":70,"axis":null},"y":{"datum":3.71,"axis":null},"text":{"value":"-/-"}}},
 {"data":{"values":[{}]},"mark":{"type":"text","fontSize":9,"align":"left","baseline":"middle","dx":23.4},"encoding":{"x":{"datum":70,"axis":null},"y":{"datum":3.71,"axis":null},"text":{"value":"/PC-α1ACT"}}},
 {"data":{"values":[{}]},"mark":{"type":"text","fontSize":5.6,"align":"left","baseline":"middle","dx":70.9,"dy":2.7},"encoding":{"x":{"datum":70,"axis":null},"y":{"datum":3.71,"axis":null},"text":{"value":"WT"}}}
]},
{"data":{"name":"ctr"},"layer":[
 {"transform":[{"filter":"datum.tr==='C3'"}],"mark":{"type":"line","stroke":"#222","strokeWidth":1.2},"encoding":{"x":{"field":"t","type":"quantitative","scale":{"domain":[0,290],"range":[277,352.3],"nice":false,"zero":false},"axis":null},"y":{"field":"a","type":"quantitative","scale":{"domain":[-5,2],"range":[419,370],"nice":false,"zero":false},"axis":null}}},
 {"data":{"values":[{}]},"mark":{"type":"text","fontSize":9,"align":"left","baseline":"middle"},"encoding":{"x":{"datum":63.5,"axis":null},"y":{"datum":3.71,"axis":null},"text":{"value":"α1A"}}},
 {"data":{"values":[{}]},"mark":{"type":"text","fontSize":5.6,"align":"left","baseline":"middle","dx":17.4,"dy":-3.3},"encoding":{"x":{"datum":63.5,"axis":null},"y":{"datum":3.71,"axis":null},"text":{"value":"-/-"}}},
 {"data":{"values":[{"x1":308,"x2":308,"y1":-3.43,"y2":-4.43},{"x1":258,"x2":308,"y1":-4.43,"y2":-4.43}]},"mark":{"type":"rule","color":"#111","strokeWidth":1},"encoding":{"x":{"field":"x1","type":"quantitative","axis":null},"x2":{"field":"x2"},"y":{"field":"y1","type":"quantitative","axis":null},"y2":{"field":"y2"}}},
 {"data":{"values":[{}]},"mark":{"type":"text","fontSize":5.5,"align":"left","baseline":"middle"},"encoding":{"x":{"datum":318,"axis":null},"y":{"datum":-3.86,"axis":null},"text":{"value":"1 nA"}}},
 {"data":{"values":[{}]},"mark":{"type":"text","fontSize":5,"align":"center","baseline":"middle"},"encoding":{"x":{"datum":280,"axis":null},"y":{"datum":-5.14,"axis":null},"text":{"value":"50 ms"}}}
]},
{"data":{"name":"C1"},"mark":{"type":"bar","stroke":"#111","strokeWidth":1.3},"encoding":{
   "x":{"field":"g","type":"nominal","sort":null,"scale":{"type":"band","domain":["Control","PC","KO"],"range":[87,192],"paddingInner":0.26,"paddingOuter":0.063},"axis":{"orient":"bottom","offset":-10,"labels":false,"title":null,"tickSize":3}},
   "y":{"field":"m","type":"quantitative","scale":{"domain":[0,4],"range":[570,456],"nice":false,"zero":false},"axis":{"orient":"left","offset":-87,"values":[0,1,2,3,4],"title":"EPSC Amplitude (nA)","titleFontSize":9.5,"labelFontSize":8.5,"tickSize":3,"labelPadding":1,"titlePadding":4}},
   "fill":{"field":"g","type":"nominal","scale":{"domain":["Control","PC","KO"],"range":["#fff","#808080","#111"]}}}},
{"data":{"name":"C1"},"layer":[
 {"mark":{"type":"rule","color":"#111","strokeWidth":1.3},"encoding":{"x":{"field":"g","type":"nominal","sort":null,"scale":{"type":"band","domain":["Control","PC","KO"],"range":[87,192],"paddingInner":0.26,"paddingOuter":0.063},"axis":null},"y":{"field":"m","type":"quantitative","scale":{"domain":[0,4],"range":[570,456],"nice":false,"zero":false},"axis":null},"y2":{"field":"hi"}}},
 {"mark":{"type":"tick","orient":"horizontal","size":15,"thickness":1.3,"color":"#111","opacity":1},"encoding":{"x":{"field":"g","type":"nominal","axis":null},"y":{"field":"hi","type":"quantitative","axis":null}}},
 {"mark":{"type":"text","fontSize":12,"align":"center","baseline":"alphabetic","dy":-1},"encoding":{"x":{"field":"g","type":"nominal","axis":null},"y":{"field":"hi","type":"quantitative","axis":null},"text":{"field":"sig"}}}
]},
{"data":{"name":"C2"},"mark":{"type":"bar","stroke":"#111","strokeWidth":1.3},"encoding":{
   "x":{"field":"g","type":"nominal","sort":null,"scale":{"type":"band","domain":["Control","PC","KO"],"range":[262,361],"paddingInner":0.33,"paddingOuter":0.056},"axis":{"orient":"bottom","offset":-10,"labels":false,"title":null,"tickSize":3}},
   "y":{"field":"m","type":"quantitative","scale":{"domain":[0,1],"range":[570,456],"nice":false,"zero":false},"axis":{"orient":"left","offset":-262,"values":[0,0.2,0.4,0.6,0.8,1],"format":".1f","title":"EPSC 2/1","titleFontSize":10,"labelFontSize":8.5,"tickSize":3,"labelPadding":1,"titlePadding":3}},
   "fill":{"field":"g","type":"nominal","scale":{"domain":["Control","PC","KO"],"range":["#fff","#808080","#111"]}}}},
{"data":{"name":"C2"},"layer":[
 {"mark":{"type":"rule","color":"#111","strokeWidth":1.3},"encoding":{"x":{"field":"g","type":"nominal","sort":null,"scale":{"type":"band","domain":["Control","PC","KO"],"range":[262,361],"paddingInner":0.33,"paddingOuter":0.056},"axis":null},"y":{"field":"m","type":"quantitative","scale":{"domain":[0,1],"range":[570,456],"nice":false,"zero":false},"axis":null},"y2":{"field":"hi"}}},
 {"mark":{"type":"tick","orient":"horizontal","size":13,"thickness":1.3,"color":"#111","opacity":1},"encoding":{"x":{"field":"g","type":"nominal","axis":null},"y":{"field":"hi","type":"quantitative","axis":null}}},
 {"mark":{"type":"text","fontSize":12,"align":"center","baseline":"alphabetic","dy":-1},"encoding":{"x":{"field":"g","type":"nominal","axis":null},"y":{"field":"hi","type":"quantitative","axis":null},"text":{"field":"sig"}}}
]},
{"data":{"name":"leg"},"layer":[
 {"mark":{"type":"point","shape":"square","filled":true,"size":49,"stroke":"#111","strokeWidth":1,"opacity":1},"encoding":{"x":{"datum":0.5,"type":"quantitative","scale":{"domain":[0,1],"range":[165,172],"nice":false,"zero":false},"axis":null},"y":{"field":"g","type":"nominal","scale":{"type":"point","domain":["Control","PC","KO"],"range":[434,458],"padding":0},"axis":null},"fill":{"field":"g","type":"nominal","scale":{"domain":["Control","PC","KO"],"range":["#fff","#808080","#111"]}}}},
 {"mark":{"type":"text","align":"left","baseline":"middle","fontSize":7.5,"dx":3},"encoding":{"x":{"datum":1,"type":"quantitative","axis":null},"y":{"field":"g","type":"nominal","axis":null},"text":{"field":"b1"}}},
 {"mark":{"type":"text","align":"left","baseline":"middle","fontSize":4.7,"dx":17.5,"dy":-2.8},"encoding":{"x":{"datum":1,"type":"quantitative","axis":null},"y":{"field":"g","type":"nominal","axis":null},"text":{"field":"sup"}}},
 {"mark":{"type":"text","align":"left","baseline":"middle","fontSize":7.5,"dx":22.5},"encoding":{"x":{"datum":1,"type":"quantitative","axis":null},"y":{"field":"g","type":"nominal","axis":null},"text":{"field":"b2"}}},
 {"mark":{"type":"text","align":"left","baseline":"middle","fontSize":4.7,"dx":61.9,"dy":2.3},"encoding":{"x":{"datum":1,"type":"quantitative","axis":null},"y":{"field":"g","type":"nominal","axis":null},"text":{"field":"sub"}}}
]},
{"data":{"name":"dtr"},"layer":[
 {"transform":[{"filter":{"field":"tr","oneOf":["D1a","D1b"]}}],"mark":{"type":"line","stroke":"#222","strokeWidth":1},"encoding":{"x":{"field":"t","type":"quantitative","scale":{"domain":[0,80],"range":[526.7,560],"nice":false,"zero":false},"axis":null},"y":{"field":"a","type":"quantitative","scale":{"domain":[-12,2],"range":[475.3,419.3],"nice":false,"zero":false},"axis":null},"detail":{"field":"tr"}}},
 {"data":{"values":[{}]},"mark":{"type":"text","fontSize":7,"align":"left","baseline":"middle"},"encoding":{"x":{"datum":-32.9,"axis":null},"y":{"datum":4.3,"axis":null},"text":{"value":"α1A"}}},
 {"data":{"values":[{}]},"mark":{"type":"text","fontSize":4.4,"align":"left","baseline":"middle","dx":13.5,"dy":-2.6},"encoding":{"x":{"datum":-32.9,"axis":null},"y":{"datum":4.3,"axis":null},"text":{"value":"-/-"}}},
 {"data":{"values":[{}]},"mark":{"type":"text","fontSize":7,"align":"left","baseline":"middle","dx":18.2},"encoding":{"x":{"datum":-32.9,"axis":null},"y":{"datum":4.3,"axis":null},"text":{"value":"PC-α1ACT"}}},
 {"data":{"values":[{}]},"mark":{"type":"text","fontSize":4.4,"align":"left","baseline":"middle","dx":53,"dy":2.2},"encoding":{"x":{"datum":-32.9,"axis":null},"y":{"datum":4.3,"axis":null},"text":{"value":"WT"}}},
 {"data":{"values":[{"x1":56,"x2":56,"y1":-8,"y2":-10},{"x1":36,"x2":56,"y1":-10,"y2":-10}]},"mark":{"type":"rule","color":"#111","strokeWidth":1},"encoding":{"x":{"field":"x1","type":"quantitative","axis":null},"x2":{"field":"x2"},"y":{"field":"y1","type":"quantitative","axis":null},"y2":{"field":"y2"}}},
 {"data":{"values":[{}]},"mark":{"type":"text","fontSize":5,"align":"left","baseline":"middle"},"encoding":{"x":{"datum":60,"axis":null},"y":{"datum":-8.6,"axis":null},"text":{"value":"2 nA"}}},
 {"data":{"values":[{}]},"mark":{"type":"text","fontSize":5,"align":"center","baseline":"middle"},"encoding":{"x":{"datum":44,"axis":null},"y":{"datum":-10.8,"axis":null},"text":{"value":"20 ms"}}},
 {"data":{"values":[{}]},"mark":{"type":"text","fontSize":19,"fontWeight":"normal","align":"left","baseline":"middle"},"encoding":{"x":{"datum":-162.5,"axis":null},"y":{"datum":9.95,"axis":null},"text":{"value":"D"}}}
]},
{"data":{"name":"dtr"},"layer":[
 {"transform":[{"filter":{"field":"tr","oneOf":["D2a","D2b","D2c"]}}],"mark":{"type":"line","stroke":"#222","strokeWidth":1},"encoding":{"x":{"field":"t","type":"quantitative","scale":{"domain":[0,80],"range":[526.7,560],"nice":false,"zero":false},"axis":null},"y":{"field":"a","type":"quantitative","scale":{"domain":[-5,2],"range":[541.5,490.4],"nice":false,"zero":false},"axis":null},"detail":{"field":"tr"}}},
 {"data":{"values":[{}]},"mark":{"type":"text","fontSize":7,"align":"left","baseline":"middle"},"encoding":{"x":{"datum":11.3,"axis":null},"y":{"datum":2.47,"axis":null},"text":{"value":"α1A"}}},
 {"data":{"values":[{}]},"mark":{"type":"text","fontSize":4.4,"align":"left","baseline":"middle","dx":13.5,"dy":-2.6},"encoding":{"x":{"datum":11.3,"axis":null},"y":{"datum":2.47,"axis":null},"text":{"value":"-/-"}}},
 {"data":{"values":[{"x1":56,"x2":56,"y1":-3.33,"y2":-4.34},{"x1":36,"x2":56,"y1":-4.34,"y2":-4.34}]},"mark":{"type":"rule","color":"#111","strokeWidth":1},"encoding":{"x":{"field":"x1","type":"quantitative","axis":null},"x2":{"field":"x2"},"y":{"field":"y1","type":"quantitative","axis":null},"y2":{"field":"y2"}}},
 {"data":{"values":[{}]},"mark":{"type":"text","fontSize":5,"align":"left","baseline":"middle"},"encoding":{"x":{"datum":60,"axis":null},"y":{"datum":-3.7,"axis":null},"text":{"value":"1 nA"}}},
 {"data":{"values":[{}]},"mark":{"type":"text","fontSize":5,"align":"center","baseline":"middle"},"encoding":{"x":{"datum":44,"axis":null},"y":{"datum":-5.2,"axis":null},"text":{"value":"20 ms"}}}
]},
{"data":{"name":"D"},"mark":{"type":"bar","stroke":"#111","strokeWidth":1.3},"encoding":{
   "x":{"field":"step","type":"nominal","sort":null,"scale":{"type":"band","domain":["1 step","2 steps","3 steps"],"range":[627,760],"paddingInner":0.234,"paddingOuter":0.16},"axis":{"orient":"bottom","offset":-40,"title":null,"ticks":false,"labelFontSize":11,"labelPadding":5,"labelAngle":0}},
   "xOffset":{"field":"g","type":"nominal","sort":null,"scale":{"domain":["Control","PC","KO"],"paddingInner":0,"paddingOuter":0}},
   "y":{"field":"pct","type":"quantitative","scale":{"domain":[0,100],"range":[540,427],"nice":false,"zero":false},"axis":{"orient":"left","offset":-627,"values":[0,20,40,60,80,100],"title":"% Number of PCs","titleFontSize":11,"labelFontSize":9.5,"tickSize":3,"labelPadding":1,"titlePadding":6}},
   "fill":{"field":"g","type":"nominal","scale":{"domain":["Control","PC","KO"],"range":["#fff","#808080","#111"]}}}},
{"data":{"name":"leg"},"layer":[
 {"mark":{"type":"point","shape":"square","filled":true,"size":100,"stroke":"#111","strokeWidth":1,"opacity":1},"encoding":{"x":{"datum":0.5,"type":"quantitative","scale":{"domain":[0,1],"range":[688.3,698.3],"nice":false,"zero":false},"axis":null},"y":{"field":"g","type":"nominal","scale":{"type":"point","domain":["Control","PC","KO"],"range":[427.3,451],"padding":0},"axis":null},"fill":{"field":"g","type":"nominal","scale":{"domain":["Control","PC","KO"],"range":["#fff","#808080","#111"]}}}},
 {"mark":{"type":"text","align":"left","baseline":"middle","fontSize":9.5,"dx":5},"encoding":{"x":{"datum":1,"type":"quantitative","axis":null},"y":{"field":"g","type":"nominal","axis":null},"text":{"field":"b1"}}},
 {"mark":{"type":"text","align":"left","baseline":"middle","fontSize":5.9,"dx":23.3,"dy":-3.4},"encoding":{"x":{"datum":1,"type":"quantitative","axis":null},"y":{"field":"g","type":"nominal","axis":null},"text":{"field":"sup"}}},
 {"mark":{"type":"text","align":"left","baseline":"middle","fontSize":9.5,"dx":29.6},"encoding":{"x":{"datum":1,"type":"quantitative","axis":null},"y":{"field":"g","type":"nominal","axis":null},"text":{"field":"b2"}}},
 {"mark":{"type":"text","align":"left","baseline":"middle","fontSize":5.9,"dx":79.5,"dy":2.8},"encoding":{"x":{"datum":1,"type":"quantitative","axis":null},"y":{"field":"g","type":"nominal","axis":null},"text":{"field":"sub"}}}
]}
],
"resolve":{"scale":{"x":"independent","y":"independent","color":"independent","fill":"independent","stroke":"independent","xOffset":"independent"},"axis":{"x":"independent","y":"independent"}}
}
